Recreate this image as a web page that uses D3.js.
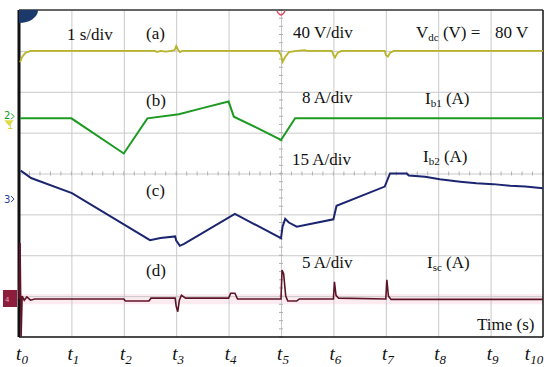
<!DOCTYPE html>
<html><head><meta charset="utf-8">
<script src="https://cdn.jsdelivr.net/npm/d3@7"></script>
<style>
html,body{margin:0;padding:0;background:#fff;}
svg text{font-family:"Liberation Serif","Times New Roman",serif;fill:#111;}
</style></head>
<body>
<svg id="c" width="550" height="367"></svg>
<script>
// time axis: 1 s/div, 10 divisions
const timeTicks = [0,1,2,3,4,5,6,7,8,9,10];
const timeLabels = ["0","1","2","3","4","5","6","7","8","9","10"];
const vDivs = [-4,-3,-2,-1,0,1,2,3,4];

// traces: [time (div), screen position (div from centre)]
const vdc = [[0.02,2.72],[0.06,2.85],[0.12,2.95],[0.22,3.0],[2.6,3.0],[2.63,2.97],[2.7,3.0],[2.8,2.98],[2.9,3.0],[2.97,3.02],[3.0,3.12],[3.04,3.02],[3.07,2.97],[3.12,3.0],[4.95,3.0],[5.0,2.9],[5.03,2.73],[5.08,2.85],[5.15,2.97],[5.3,3.0],[5.45,3.02],[5.5,3.0],[5.97,3.0],[6.0,2.9],[6.03,2.84],[6.08,2.95],[6.15,3.0],[6.98,3.0],[7.0,2.9],[7.04,2.86],[7.08,2.95],[7.15,3.0],[10,3.0]];
const ib1 = [[0.02,1.35],[1.0,1.35],[2.0,0.49],[2.45,1.35],[3.05,1.45],[3.5,1.6],[4.0,1.76],[4.1,1.39],[4.6,1.08],[5.0,0.82],[5.27,1.35],[10,1.35]];
const ib2 = [[0.03,0.07],[0.1,0.01],[0.23,-0.11],[1.01,-0.48],[2.5,-1.63],[2.7,-1.58],[2.98,-1.54],[3.0,-1.64],[3.07,-1.77],[3.15,-1.72],[4.12,-0.99],[5.0,-1.58],[5.03,-1.3],[5.08,-1.11],[5.15,-1.2],[5.3,-1.3],[6.0,-1.12],[6.06,-0.79],[6.98,-0.32],[7.08,0.0],[7.4,0.0],[7.44,-0.05],[7.75,-0.08],[8.03,-0.14],[8.42,-0.2],[8.73,-0.24],[9.05,-0.26],[9.37,-0.3],[9.66,-0.32],[10,-0.36]];
const isc = [[0.0,-3.07],[0.02,-1.7],[0.04,-4.0],[0.06,-3.0],[0.1,-3.1],[0.15,-3.02],[0.22,-3.1],[0.3,-3.07],[2.0,-3.07],[2.03,-3.12],[2.48,-3.12],[2.52,-3.05],[2.98,-3.05],[3.0,-3.25],[3.03,-3.38],[3.06,-3.1],[3.1,-2.98],[3.18,-3.05],[4.0,-3.05],[4.04,-2.93],[4.12,-2.93],[4.17,-3.07],[5.0,-3.07],[5.02,-2.36],[5.05,-2.45],[5.09,-3.0],[5.13,-3.12],[5.3,-3.12],[5.35,-3.07],[6.0,-3.07],[6.02,-2.65],[6.05,-2.98],[6.1,-3.05],[7.0,-3.07],[7.02,-2.6],[7.05,-3.0],[7.1,-3.08],[10,-3.08]];

const L = 19, R = 543, T = 10, B = 337;
const svg = d3.select("#c");
const x = d3.scaleLinear().domain([0,10]).range([L,R]);
const y = d3.scaleLinear().domain([-4,4]).range([B,T]);

// faint pink band behind Isc trace
svg.append("rect").attr("x",x(0)).attr("y",y(-2.95)).attr("width",x(10)-x(0)).attr("height",y(-3.2)-y(-2.95)).attr("fill","#fcebf0");

// grid via axes
const gx = svg.append("g").attr("transform",`translate(0,${B})`)
  .call(d3.axisBottom(x).tickValues(timeTicks.slice(1,10)).tickSize(-(B-T)).tickFormat(""));
gx.select(".domain").remove();
gx.selectAll("line").attr("stroke","#c9c9c9").attr("stroke-width",1);
const gy = svg.append("g").attr("transform",`translate(${L},0)`)
  .call(d3.axisLeft(y).tickValues(vDivs.slice(1,8)).tickSize(-(R-L)).tickFormat(""));
gy.select(".domain").remove();
gy.selectAll("line").attr("stroke","#c9c9c9").attr("stroke-width",1);

// minor ticks on centre lines
const minor = [];
for (let i=0;i<=50;i++) minor.push(i/5);
svg.append("g").selectAll("line").data(minor).join("line")
  .attr("x1",d=>x(d)).attr("x2",d=>x(d)).attr("y1",y(0)-2).attr("y2",y(0)+2).attr("stroke","#b0b0b0");
const minorV = [];
for (let i=0;i<=40;i++) minorV.push(-4+i/5);
svg.append("g").selectAll("line").data(minorV).join("line")
  .attr("x1",x(5)-2).attr("x2",x(5)+2).attr("y1",d=>y(d)).attr("y2",d=>y(d)).attr("stroke","#b0b0b0");

// frame
svg.append("line").attr("x1",L).attr("x2",R).attr("y1",T).attr("y2",T).attr("stroke","#333").attr("stroke-width",1.5);
svg.append("line").attr("x1",R).attr("x2",R).attr("y1",T).attr("y2",B).attr("stroke","#111").attr("stroke-width",1.5);
svg.append("line").attr("x1",L).attr("x2",R).attr("y1",B).attr("y2",B).attr("stroke","#111").attr("stroke-width",1.5);
svg.append("line").attr("x1",L).attr("x2",L).attr("y1",T).attr("y2",B).attr("stroke","#111").attr("stroke-width",3);

// traces
const line = d3.line().x(d=>x(d[0])).y(d=>y(d[1]));
svg.append("path").datum(vdc).attr("d",line).attr("fill","none").attr("stroke","#b9b42a").attr("stroke-width",1.8);
svg.append("path").datum(ib1).attr("d",line).attr("fill","none").attr("stroke","#1c9a22").attr("stroke-width",2);
svg.append("path").datum(ib2).attr("d",line).attr("fill","none").attr("stroke","#1c2570").attr("stroke-width",2);
svg.append("path").datum(isc).attr("d",line).attr("fill","none").attr("stroke","#5e1428").attr("stroke-width",1.6);

// top-left quarter marker and trigger marker
svg.append("path").attr("d",`M${L},${T} L${L+19},${T} A19,13 0 0 1 ${L},${T+13} Z`).attr("fill","#1b3a6b");
svg.append("path").attr("d",`M${x(5)-4},${T+1} Q${x(5)},${T+9} ${x(5)+4},${T+1}`).attr("fill","none").attr("stroke","#e0506a").attr("stroke-width",1.5);

// channel markers
svg.append("text").attr("x",4).attr("y",y(1.35)+1).attr("font-size",10).style("fill","#1c9a22").style("font-family","DejaVu Sans").text("2");
svg.append("path").attr("d",`M11,${y(1.35)-5} l3,3 l-3,3`).attr("fill","none").attr("stroke","#1c9a22");
svg.append("text").attr("x",7).attr("y",y(1.35)+11).attr("font-size",10).style("fill","#d6d23a").style("font-family","DejaVu Sans").text("1");
svg.append("path").attr("d",`M5,${y(1.35)+2} l4,5 l4,-5`).attr("fill","#e3de40").attr("stroke","#d6d23a");
svg.append("text").attr("x",4).attr("y",y(-0.65)+3).attr("font-size",10).style("fill","#2b3ea8").style("font-family","DejaVu Sans").text("3");
svg.append("path").attr("d",`M11,${y(-0.65)-4} l3,3 l-3,3`).attr("fill","none").attr("stroke","#2b3ea8");
svg.append("rect").attr("x",3).attr("y",y(-3.07)-9).attr("width",14).attr("height",17).attr("fill","#8c1d3c");
svg.append("text").attr("x",5).attr("y",y(-3.07)+3).attr("font-size",7).style("fill","#e8a0b8").style("font-family","DejaVu Sans").text("4");

// annotations
const fs = 17;
function lab(tx,ty,str){ return svg.append("text").attr("x",tx).attr("y",ty).attr("font-size",fs).text(str); }
lab(67,40,"1 s/div");
lab(146,39,"(a)");
lab(293,38,"40 V/div");
const vt = svg.append("text").attr("x",416).attr("y",38).attr("font-size",fs);
vt.append("tspan").text("V");
vt.append("tspan").attr("font-size",11).attr("dy",3).text("dc");
vt.append("tspan").attr("dy",-3).text(" (V) =");
vt.append("tspan").attr("x",495).text("80 V");
lab(146,106,"(b)");
lab(302,103,"8 A/div");
function cur(tx,ty,sub){
  const t = svg.append("text").attr("x",tx).attr("y",ty).attr("font-size",fs);
  t.append("tspan").text("I");
  t.append("tspan").attr("font-size",11).attr("dy",3).text(sub);
  t.append("tspan").attr("dy",-3).text(" (A)");
}
cur(425,104,"b1");
lab(292,165,"15 A/div");
cur(423,162,"b2");
lab(146,196,"(c)");
lab(146,276,"(d)");
lab(302,268,"5 A/div");
cur(427,268,"sc");
lab(477,330,"Time (s)");

// time tick labels
const tl = svg.append("g").selectAll("text").data(timeTicks).join("text")
  .attr("x",(d,i)=> i===0 ? x(d)+3 : (i===10 ? x(d)-9 : x(d)+2))
  .attr("y",360).attr("text-anchor","middle").attr("font-size",19).attr("font-style","italic");
tl.append("tspan").text("t");
tl.append("tspan").attr("font-size",13).attr("dy",4).text((d,i)=>timeLabels[i]);
</script>
</body></html>
